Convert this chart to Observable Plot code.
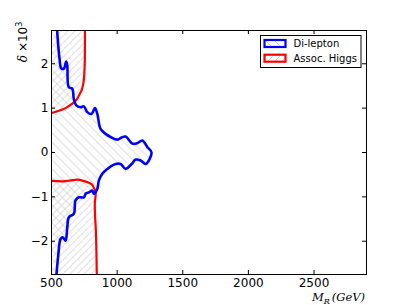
<!DOCTYPE html>
<html>
<head>
<meta charset="utf-8">
<script src="https://cdn.jsdelivr.net/npm/d3@7"></script>
<script src="https://cdn.jsdelivr.net/npm/@observablehq/plot@0.6"></script>
<style>
  html, body { margin: 0; padding: 0; background: #fff; }
  #chart svg { display: block; }
</style>
</head>
<body>
<div id="chart"></div>
<script>
// ---- data ----
const xDomain = [500, 2900];
const yDomain = [-2.75, 2.75];
const xTicks = [500, 1000, 1500, 2000, 2500];
const yTicks = [-2, -1, 0, 1, 2];

// Di-lepton contour (M_R in GeV, delta x 10^3), from top to bottom
const dileptonX = [543, 551, 561, 574, 594, 612, 620, 632, 658, 670, 689, 721, 747, 773, 805, 831, 849, 874, 912, 950, 1002, 1034, 1065, 1116, 1154, 1192, 1231, 1262,
                   1218, 1179, 1141, 1111, 1065, 1027, 989, 925, 887, 861, 849, 823, 811, 785, 760, 747, 708, 683, 670, 632, 620, 607, 586, 569, 551, 538];
const dileptonY = [2.75, 2.42, 2.12, 1.90, 1.89, 2.05, 1.96, 1.47, 1.44, 1.21, 1.06, 1.02, 1.04, 0.91, 0.87, 1.00, 0.87, 0.53, 0.42, 0.35, 0.29, 0.34, 0.36, 0.20, 0.21, 0.27, 0.12, 0.0,
                   -0.26, -0.18, -0.16, -0.26, -0.37, -0.26, -0.26, -0.37, -0.48, -0.63, -0.82, -0.93, -0.86, -0.90, -0.93, -1.01, -1.01, -1.08, -1.38, -1.46, -1.69, -1.99, -1.91, -1.95, -2.33, -2.75];

// Associated Higgs contour, upper branch
const higgsUpX = [500, 556, 607, 658, 696, 713, 729, 741, 747, 752, 754, 755];
const higgsUpY = [0.89, 0.94, 1.00, 1.10, 1.21, 1.31, 1.40, 1.53, 1.66, 1.90, 2.12, 2.75];
// Associated Higgs contour, lower branch
const higgsLoX = [500, 592, 645, 696, 744, 785, 809, 823, 836, 830, 832, 838, 842, 845];
const higgsLoY = [-0.64, -0.65, -0.63, -0.61, -0.64, -0.68, -0.72, -0.80, -0.90, -1.15, -1.42, -1.76, -2.21, -2.75];

const zip = (xs, ys) => xs.map((x, i) => ({x, y: ys[i]}));
const dilepton = zip(dileptonX, dileptonY);
const higgsUp = zip(higgsUpX, higgsUpY);
const higgsLo = zip(higgsLoX, higgsLoY);

// closed regions (bounded by the left edge of the frame)
const [x0] = xDomain, [yMin, yMax] = yDomain;
const dileptonRegion = [...dilepton, {x: x0, y: yMin}, {x: x0, y: yMax}];
const higgsUpRegion = [...higgsUp, {x: x0, y: yMax}];
const higgsLoRegion = [...higgsLo, {x: x0, y: yMin}];

const W = 407, H = 305;
const mL = 51, mR = 41, mT = 30, mB = 31;
const innerH = H - mT - mB, innerW = W - mL - mR;
const tick = 4;

const chart = Plot.plot({
  width: W, height: H,
  marginLeft: mL, marginRight: mR, marginTop: mT, marginBottom: mB,
  style: {fontFamily: "DejaVu Sans", fontSize: "12px", background: "white", color: "black"},
  x: {domain: xDomain},
  y: {domain: yDomain},
  marks: [
    Plot.line(dileptonRegion, {x: "x", y: "y", fill: "url(#hatchB)", stroke: "none", clip: true}),
    Plot.line(higgsUpRegion, {x: "x", y: "y", fill: "url(#hatchF)", stroke: "none", clip: true}),
    Plot.line(higgsLoRegion, {x: "x", y: "y", fill: "url(#hatchF)", stroke: "none", clip: true}),
    Plot.line(higgsUp, {x: "x", y: "y", stroke: "#ff0000", strokeWidth: 2.2, curve: "catmull-rom", clip: true}),
    Plot.line(higgsLo, {x: "x", y: "y", stroke: "#ff0000", strokeWidth: 2.2, curve: "catmull-rom", clip: true}),
    Plot.line(dilepton, {x: "x", y: "y", stroke: "#0000ff", strokeWidth: 2.6, curve: "catmull-rom", clip: true}),
    Plot.frame({stroke: "black", strokeWidth: 1}),
    // inward ticks on all four sides
    Plot.tickX(xTicks, {x: d => d, insetTop: innerH - tick, stroke: "black"}),
    Plot.tickX(xTicks, {x: d => d, insetBottom: innerH - tick, stroke: "black"}),
    Plot.tickY(yTicks, {y: d => d, insetRight: innerW - tick, stroke: "black"}),
    Plot.tickY(yTicks, {y: d => d, insetLeft: innerW - tick, stroke: "black"}),
    Plot.axisX({ticks: xTicks, tickSize: 0, tickPadding: 4, tickFormat: d => String(d), label: null, fontSize: 12}),
    Plot.axisY({ticks: yTicks, tickSize: 0, tickPadding: 3, tickFormat: d => (d < 0 ? "\u2212" : "") + Math.abs(d), label: null, fontSize: 12})
  ]
});

const svg = d3.select(chart);
const defs = svg.insert("defs", ":first-child");
// "\" hatch for Di-lepton
const pB = defs.append("pattern").attr("id", "hatchB").attr("patternUnits", "userSpaceOnUse")
  .attr("width", 9).attr("height", 9);
pB.append("path").attr("d", "M-1,-1 L10,10 M-1,8 L1,10 M8,-1 L10,1")
  .attr("stroke", "#c4c4c4").attr("stroke-width", 0.8).attr("fill", "none");
// "/" hatch for Assoc. Higgs
const pF = defs.append("pattern").attr("id", "hatchF").attr("patternUnits", "userSpaceOnUse")
  .attr("width", 7).attr("height", 7);
pF.append("path").attr("d", "M-1,8 L8,-1 M-1,1 L1,-1 M6,8 L8,6")
  .attr("stroke", "#c4c4c4").attr("stroke-width", 0.8).attr("fill", "none");

// x-axis label (right-aligned, math italic)
const xl = svg.append("text").attr("x", 365).attr("y", 301).attr("text-anchor", "end")
  .attr("font-family", "DejaVu Serif").attr("font-style", "italic").attr("font-size", 11.5);
xl.append("tspan").text("M");
xl.append("tspan").attr("font-size", 8).attr("dy", 2.5).text("R");
xl.append("tspan").attr("dy", -2.5).attr("dx", 2).text("(GeV)");

// y-axis label
const yl = svg.append("text").attr("transform", "translate(27,42) rotate(-90)")
  .attr("text-anchor", "middle").attr("font-size", 12);
yl.append("tspan").attr("font-family", "DejaVu Serif").attr("font-style", "italic").text("\u03b4");
yl.append("tspan").attr("font-family", "DejaVu Sans").attr("dx", 3).text("\u00d710");
yl.append("tspan").attr("font-family", "DejaVu Sans").attr("font-size", 8).attr("dy", -5).text("3");

// legend
const lg = svg.append("g").attr("font-family", "DejaVu Sans").attr("font-size", 10).attr("text-anchor", "start");
lg.append("rect").attr("x", 260.5).attr("y", 35.5).attr("width", 100.5).attr("height", 32)
  .attr("fill", "white").attr("stroke", "black").attr("stroke-width", 1);
const entries = [
  {label: "Di-lepton", color: "#0000ff", fill: "url(#hatchB)", cy: 43.5},
  {label: "Assoc. Higgs", color: "#ff0000", fill: "url(#hatchF)", cy: 58.2}
];
for (const e of entries) {
  lg.append("rect").attr("x", 264.5).attr("y", e.cy - 3.5).attr("width", 21).attr("height", 7)
    .attr("fill", "white").attr("stroke", "none");
  lg.append("rect").attr("x", 264.5).attr("y", e.cy - 3.5).attr("width", 21).attr("height", 7)
    .attr("fill", e.fill).attr("stroke", e.color).attr("stroke-width", 2.2);
  lg.append("text").attr("x", 293.5).attr("y", e.cy).attr("dy", "0.35em").attr("text-anchor", "start").text(e.label);
}

document.getElementById("chart").appendChild(chart);
</script>
</body>
</html>
